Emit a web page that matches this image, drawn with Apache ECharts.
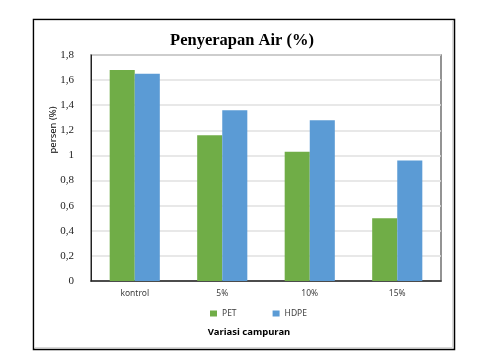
<!DOCTYPE html>
<html><head><meta charset="utf-8">
<script src="https://cdn.jsdelivr.net/npm/echarts@6/dist/echarts.min.js"></script>
<style>html,body{margin:0;padding:0;background:#fff}#c{width:484px;height:364px}</style>
</head><body><div id="c"></div>
<script>
const categories = ['kontrol', '5%', '10%', '15%'];
const petValues = [1.68, 1.16, 1.03, 0.50];
const hdpeValues = [1.65, 1.36, 1.28, 0.96];
const seriesNames = ['PET', 'HDPE'];
const titleText = 'Penyerapan Air (%)';
const yName = 'persen (%)';
const xName = 'Variasi campuran';

const chart = echarts.init(document.getElementById('c'), null, {renderer: 'canvas'});
chart.setOption({
  animation: false,
  backgroundColor: '#fff',
  title: {
    text: titleText, left: 'center', top: 27,
    textStyle: {fontFamily: 'Liberation Serif', fontWeight: 'bold', fontSize: 16.5, color: '#000'}
  },
  legend: {
    data: seriesNames, top: 304, left: 205, itemWidth: 7, itemHeight: 6, itemGap: 36,
    icon: 'rect',
    textStyle: {fontFamily: 'Noto Sans', fontSize: 8.5, color: '#404040'}
  },
  grid: {left: 91, right: 43, top: 55, bottom: 83, show: true, borderColor: '#707070', borderWidth: 1.5},
  xAxis: {
    type: 'category', data: categories,
    axisLine: {lineStyle: {color: '#222', width: 1.5}},
    axisTick: {show: false},
    axisLabel: {fontFamily: 'Noto Sans', fontSize: 8.5, color: '#404040', margin: 8}
  },
  yAxis: {
    type: 'value', min: 0, max: 1.8, interval: 0.2,
    axisLine: {show: true, lineStyle: {color: '#222', width: 1}},
    axisTick: {show: false},
    splitLine: {lineStyle: {color: '#e0e0e0', width: 1.5}},
    axisLabel: {
      fontFamily: 'Liberation Serif', fontSize: 11, color: '#222', margin: 17,
      formatter: v => String(Math.round(v * 10) / 10).replace('.', ',')
    }
  },
  series: [
    {name: seriesNames[0], type: 'bar', data: petValues, barGap: '0%', barCategoryGap: '42.7%',
     itemStyle: {color: '#70AD47'}},
    {name: seriesNames[1], type: 'bar', data: hdpeValues, barGap: '0%', barCategoryGap: '42.7%',
     itemStyle: {color: '#5B9BD5'}}
  ],
  graphic: [
    {type: 'rect', shape: {x: 33.5, y: 19.5, width: 421, height: 330}, style: {fill: 'none', stroke: '#000', lineWidth: 1.5}, silent: true},
    {type: 'rect', shape: {x: 34.5, y: 20.5, width: 418, height: 327}, style: {fill: 'none', stroke: '#d9d9d9', lineWidth: 1}, silent: true},
    {type: 'text', x: 53, y: 130, rotation: Math.PI / 2,
     style: {text: yName, fontFamily: 'Noto Sans', fontSize: 9.5, fill: '#000', align: 'center', verticalAlign: 'middle'}},
    {type: 'text', x: 249, y: 332,
     style: {text: xName, fontFamily: 'Noto Sans', fontWeight: 'bold', fontSize: 9.5, fill: '#000', align: 'center', verticalAlign: 'middle'}}
  ]
});
</script></body></html>
